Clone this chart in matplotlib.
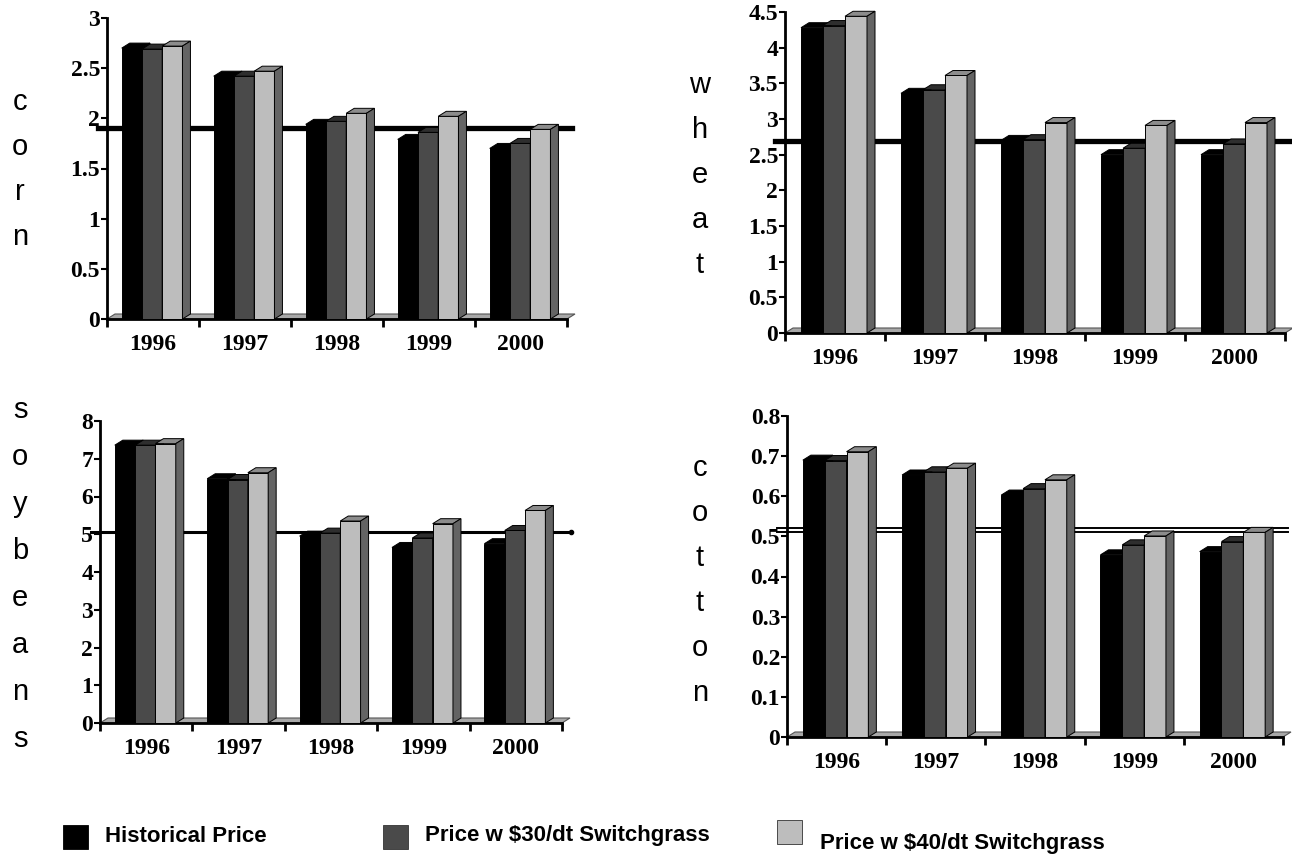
import matplotlib
matplotlib.use("Agg")
import matplotlib.pyplot as plt
from matplotlib.patches import Polygon, Rectangle

# ---------------- data ----------------
years = ["1996", "1997", "1998", "1999", "2000"]
series_names = ["Historical Price", "Price w $30/dt Switchgrass", "Price w $40/dt Switchgrass"]

corn_hist = [2.70, 2.42, 1.94, 1.79, 1.70]
corn_30 = [2.69, 2.42, 1.97, 1.86, 1.75]
corn_40 = [2.72, 2.47, 2.05, 2.02, 1.89]
corn_ref = 1.90

wheat_hist = [4.28, 3.36, 2.70, 2.50, 2.50]
wheat_30 = [4.31, 3.41, 2.71, 2.59, 2.65]
wheat_40 = [4.44, 3.61, 2.95, 2.91, 2.95]
wheat_ref = 2.69

soy_hist = [7.36, 6.47, 4.95, 4.65, 4.75]
soy_30 = [7.36, 6.45, 5.03, 4.90, 5.10]
soy_40 = [7.40, 6.63, 5.35, 5.28, 5.63]
soy_ref = 5.05

cotton_hist = [0.690, 0.653, 0.603, 0.454, 0.462]
cotton_30 = [0.689, 0.661, 0.619, 0.479, 0.487]
cotton_40 = [0.711, 0.670, 0.641, 0.501, 0.510]
cotton_ref = [0.520, 0.510]

# ---------------- style ----------------
W, H = 1292, 859
DEPTH_X, DEPTH_Y = 8, 5        # pseudo 3D depth in pixels
BAR_W = 0.22
FACE = {  # front, top, side
    0: ("#000000", "#000000", "#000000"),
    1: ("#4a4a4a", "#2e2e2e", "#3a3a3a"),
    2: ("#bdbdbd", "#8c8c8c", "#646464"),
}
TICK_FONT = dict(family="Liberation Serif", weight="bold", size=17)

fig = plt.figure(figsize=(W / 100, H / 100), dpi=100)


def px_rect(x0, x1, ytop, ybot):
    return [x0 / W, 1 - ybot / H, (x1 - x0) / W, (ybot - ytop) / H]


def draw_panel(rect, ymax, ystep, ticklabels, data, ref, ref_style):
    ax = fig.add_axes(rect)
    ax.set_xlim(-0.5, len(years) - 0.5)
    ax.set_ylim(0, ymax)
    ax.patch.set_alpha(0)

    w_px = rect[2] * W
    h_px = rect[3] * H
    dx = DEPTH_X / (w_px / len(years))
    dy = DEPTH_Y / (h_px / ymax)

    # floor
    floor = Polygon([(-0.5, 0), (len(years) - 0.5, 0),
                     (len(years) - 0.5 + dx, dy), (-0.5 + dx, dy)],
                    closed=True, fc="#a8a8a8", ec="#555555", lw=0.8,
                    zorder=2, clip_on=False)
    ax.add_patch(floor)

    # reference line(s) behind the bars
    for val in ([ref] if not isinstance(ref, list) else ref):
        ax.plot([-0.02, 1.01], [val, val], color="black",
                transform=ax.get_yaxis_transform(), clip_on=False,
                zorder=2.5, **ref_style)

    for i in range(len(years)):
        for j, vals in enumerate(data):
            v = vals[i]
            xl = i - 0.5 + 0.16 + BAR_W * j
            xr = xl + BAR_W
            front, top, side = FACE[j]
            z = 3 + i * 0.01 + j * 0.1
            ax.bar(xl, v, width=BAR_W, align="edge", color=front,
                   edgecolor="black", linewidth=0.7, zorder=z)
            ax.add_patch(Polygon([(xl, v), (xr, v), (xr + dx, v + dy), (xl + dx, v + dy)],
                                 closed=True, fc=top, ec="black", lw=0.7,
                                 zorder=z, clip_on=False))
            ax.add_patch(Polygon([(xr, 0), (xr + dx, dy), (xr + dx, v + dy), (xr, v)],
                                 closed=True, fc=side, ec="black", lw=0.7,
                                 zorder=z, clip_on=False))

    for s in ["top", "right"]:
        ax.spines[s].set_visible(False)
    ax.spines["left"].set_linewidth(2)
    ax.spines["bottom"].set_linewidth(2)

    ax.set_xticks([k - 0.5 for k in range(len(years) + 1)])
    ax.set_xticklabels([])
    ax.set_xticks(range(len(years)), minor=True)
    ax.set_xticklabels(years, minor=True, fontdict=TICK_FONT)
    ax.tick_params(axis="x", which="major", direction="out", length=6, width=2)
    ax.tick_params(axis="x", which="minor", length=0, pad=11)

    yt = [k * ystep for k in range(len(ticklabels))]
    ax.set_yticks(yt)
    ax.set_yticklabels(ticklabels, fontdict=TICK_FONT)
    ax.tick_params(axis="y", direction="out", length=4, width=1.5, pad=1)
    return ax


draw_panel(px_rect(107, 567, 18, 319), 3, 0.5,
           ["0", "0.5", "1", "1.5", "2", "2.5", "3"],
           [corn_hist, corn_30, corn_40], corn_ref, dict(lw=3.8))

draw_panel(px_rect(785, 1285, 12, 333), 4.5, 0.5,
           ["0", "0.5", "1", "1.5", "2", "2.5", "3", "3.5", "4", "4.5"],
           [wheat_hist, wheat_30, wheat_40], wheat_ref, dict(lw=3.8))

ax_soy = draw_panel(px_rect(100, 562, 421, 723), 8, 1,
                    [str(k) for k in range(9)],
                    [soy_hist, soy_30, soy_40], soy_ref, dict(lw=2.2))
ax_soy.plot([1.02], [soy_ref], "o", color="black", ms=3,
            transform=ax_soy.get_yaxis_transform(), clip_on=False)

draw_panel(px_rect(787, 1283, 416, 737), 0.8, 0.1,
           ["0", "0.1", "0.2", "0.3", "0.4", "0.5", "0.6", "0.7", "0.8"],
           [cotton_hist, cotton_30, cotton_40], cotton_ref, dict(lw=1.4))

# vertical crop names
SIDE_FONT = dict(family="Liberation Sans", size=21, ha="center", va="center")


def side_label(word, x, y0, step):
    for k, ch in enumerate(word):
        fig.text(x / W, 1 - (y0 + k * step) / H, ch, **SIDE_FONT)


side_label("corn", 20, 102, 45)
side_label("wheat", 700, 85, 45)
side_label("soybeans", 20, 410, 47)
side_label("cotton", 700, 468, 45)

# legend
LEG_FONT = dict(family="Liberation Sans", weight="bold", size=16, va="center")
leg_items = [(63, 825, 105, 836), (383, 825, 425, 836), (777, 820, 820, 844)]
for k, (sx, sy, tx, ty) in enumerate(leg_items):
    fig.add_artist(Rectangle((sx / W, 1 - (sy + 24) / H), 25 / W, 24 / H,
                             transform=fig.transFigure, fc=FACE[k][0],
                             ec="#333333" if k else "black", lw=0.6))
    fig.text(tx / W, 1 - ty / H, series_names[k], **LEG_FONT)

fig.savefig("out.png", dpi=100)
